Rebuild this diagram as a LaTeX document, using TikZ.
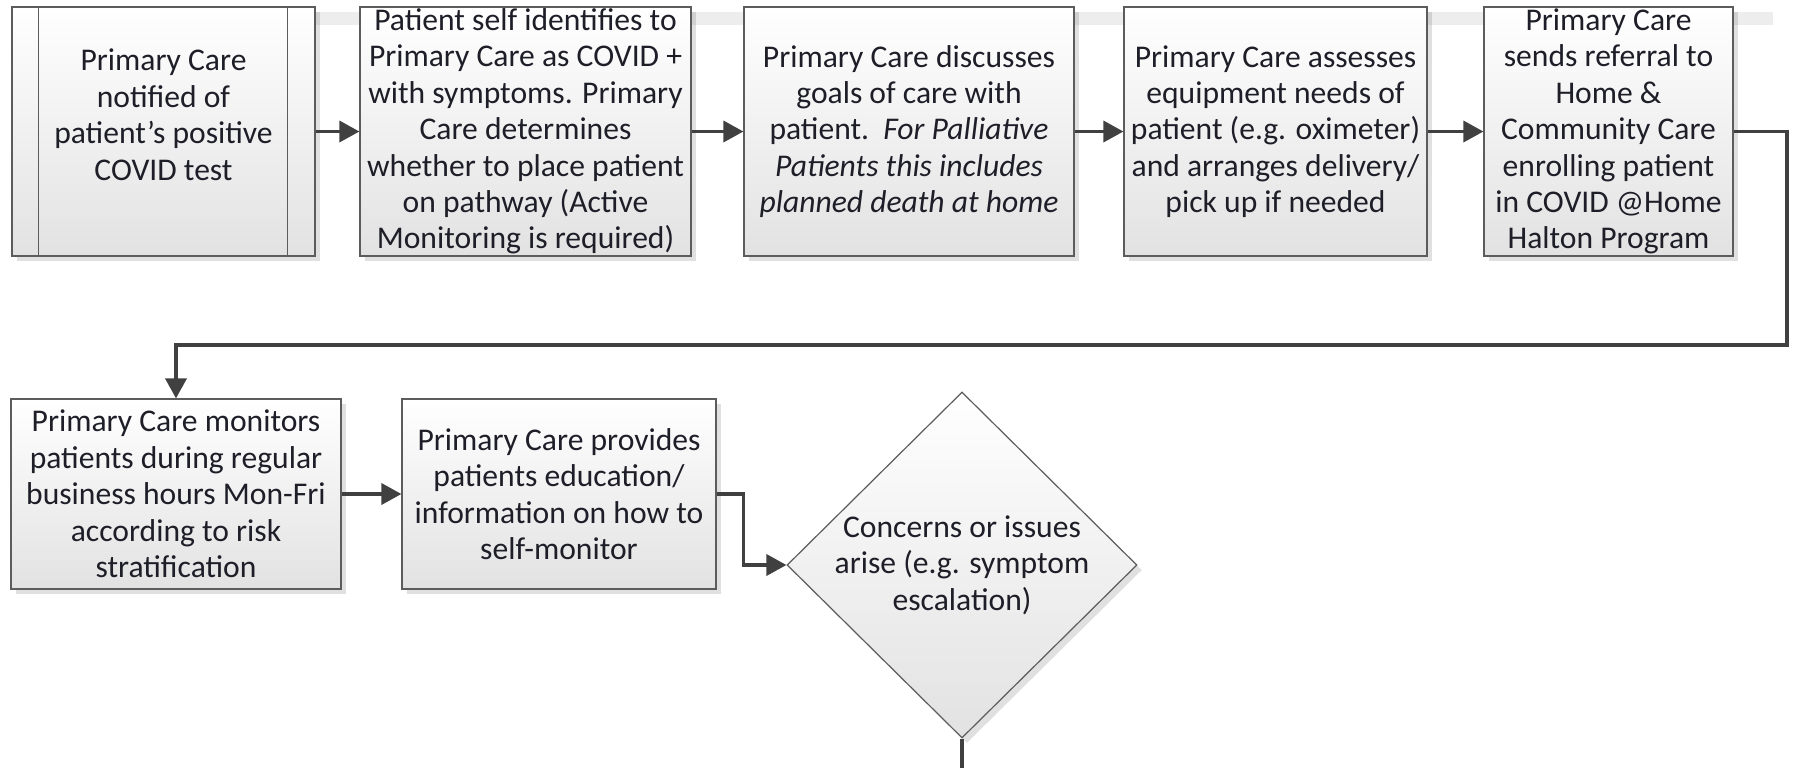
\documentclass[tikz,border=0pt]{standalone}
\usepackage{fontspec}
\setmainfont{Carlito}
\usetikzlibrary{arrows.meta,shapes.geometric,shadows}

\definecolor{linegray}{HTML}{404040}
\definecolor{edgegray}{HTML}{5C5C5C}
\definecolor{fillgray}{HTML}{E2E2E2}
\definecolor{textdark}{HTML}{1E1E28}

\tikzset{
  stepbox/.style={rectangle, draw=edgegray, line width=0.6pt,
    top color=white, bottom color=fillgray,
    inner xsep=2pt, inner ysep=0pt, align=center, text=textdark,
    font=\fontsize{15.8}{18.2}\selectfont,
    drop shadow={shadow xshift=2.5pt, shadow yshift=-2.5pt, fill=black, opacity=0.12}},
  decision/.style={stepbox, diamond, inner sep=0pt,
    minimum width=175pt, minimum height=173pt},
  dectext/.style={align=center, text=textdark, font=\fontsize{15.8}{18.2}\selectfont},
  flow/.style={draw=linegray, line width=1.8pt, -{Triangle[length=10pt,width=10.5pt]}},
  plainflow/.style={draw=linegray, line width=1.8pt}
}

\begin{document}
\begin{tikzpicture}[x=0.5pt,y=-0.5pt]
\useasboundingbox (0,0) rectangle (1801,768);

\fill[black!7] (12,12) rectangle (1773,25);

% first row
\node[stepbox, minimum width=151.5pt, minimum height=124.5pt] (notified) at (163.5,131.5)
  {\raisebox{3pt}[0pt][0pt]{\begin{tabular}{@{}c@{}}Primary Care\\ notified of\\ patient’s positive\\ COVID test\end{tabular}}};
\draw[edgegray, line width=0.6pt] ([xshift=13.5pt]notified.north west) -- ([xshift=13.5pt]notified.south west);
\draw[edgegray, line width=0.6pt] ([xshift=-14pt]notified.north east) -- ([xshift=-14pt]notified.south east);

\node[stepbox, minimum width=165.5pt, minimum height=124.5pt] (selfid) at (525.5,131.5)
  {Patient self identifies to\\ Primary Care as COVID +\\ with symptoms. Primary\\ Care determines\\ whether to place patient\\ on pathway (Active\\ Monitoring is required)};
\node[stepbox, minimum width=165pt, minimum height=124.5pt] (goals) at (909,131.5)
  {Primary Care discusses\\ goals of care with\\ patient.\ \ \textit{For Palliative}\\ \textit{Patients this includes}\\ \textit{planned death at home}};
\node[stepbox, minimum width=151.5pt, minimum height=124.5pt] (equip) at (1275.5,131.5)
  {Primary Care assesses\\ equipment needs of\\ patient (e.g. oximeter)\\ and arranges delivery/\\ pick up if needed};
\node[stepbox, minimum width=124.5pt, minimum height=124.5pt] (referral) at (1608.5,131.5)
  {Primary Care\\ sends referral to\\ Home \&\\ Community Care\\ enrolling patient\\ in COVID @Home\\ Halton Program};

\draw[flow] (notified.east) -- (selfid.west);
\draw[flow] (selfid.east) -- (goals.west);
\draw[flow] (goals.east) -- (equip.west);
\draw[flow] (equip.east) -- (referral.west);

%-------------------------------------
% second row
\node[stepbox, minimum width=165pt, minimum height=95pt] (monitor) at (176,494)
  {Primary Care monitors\\ patients during regular\\ business hours Mon-Fri\\ according to risk\\ stratification};
\node[stepbox, minimum width=157pt, minimum height=95pt] (educate) at (559,494)
  {Primary Care provides\\ patients education/\\ information on how to\\ self-monitor};
\node[decision, label={[dectext]center:{Concerns or issues\\ arise (e.g. symptom\\ escalation)}}] (concern) at (962,565) {};

\coordinate (turn) at (1787,345);
\coordinate (exit) at (962,768);

\draw[flow] (referral.east) -| (turn) -| (monitor.north);
\draw[flow] (monitor.east) -- (educate.west);
\draw[flow] (educate.east) -- ++(27,0) |- (concern.west);
\draw[plainflow] (concern.south) -- (exit);
\end{tikzpicture}
\end{document}
